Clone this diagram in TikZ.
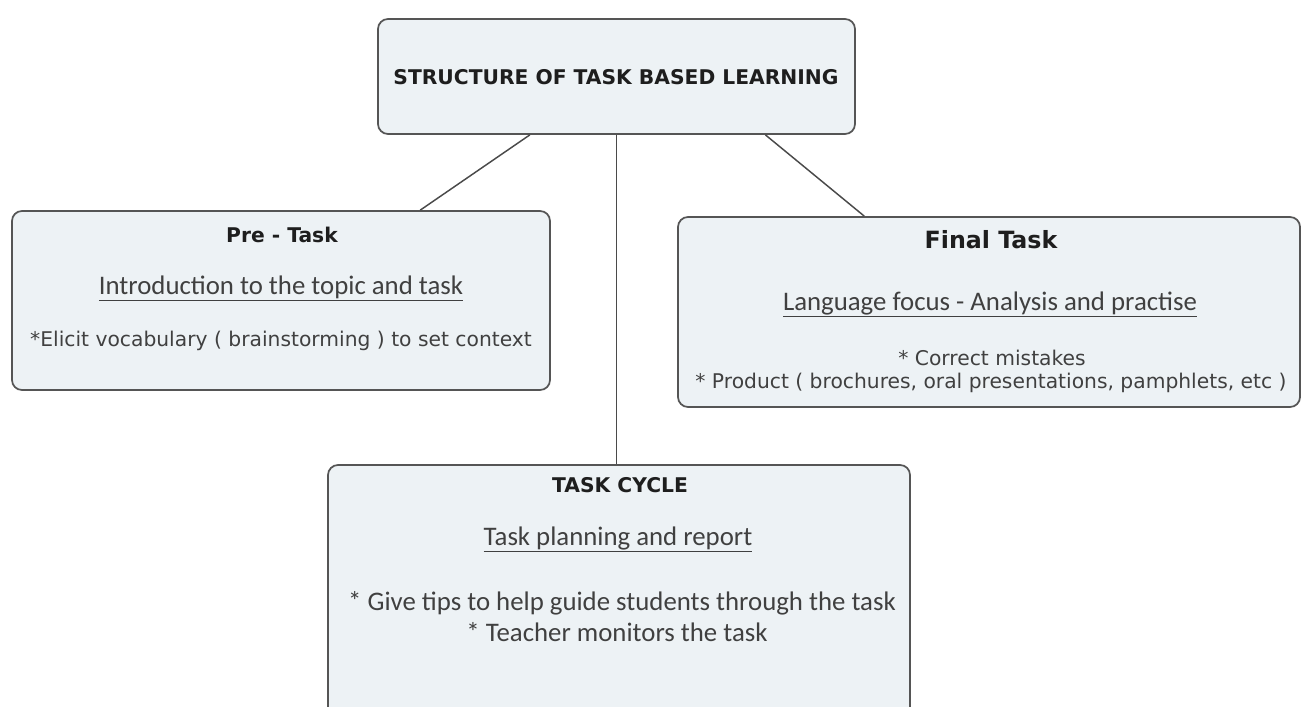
\documentclass[tikz,border=0pt]{standalone}
\usepackage{fontspec}
\setmainfont{DejaVu Sans}
\newfontfamily\calfont{Carlito}
\usetikzlibrary{fit,calc}
\definecolor{boxfill}{HTML}{EDF2F5}
\definecolor{boxline}{HTML}{555555}
\definecolor{linkcol}{HTML}{4A4A4A}
\definecolor{txt}{HTML}{1E1E1E}
\begin{document}
\begin{tikzpicture}[x=0.75pt,y=-0.75pt,
  box/.style={draw=boxline, fill=boxfill, line width=1.3pt, rounded corners=7.5pt, inner sep=0pt},
  link/.style={draw=linkcol, line width=1.1pt},
  head/.style={font=\fontsize{15.2}{18}\selectfont\bfseries, text=txt, inner sep=0pt, anchor=base},
  bighead/.style={font=\fontsize{17.8}{21}\selectfont\bfseries, text=txt, inner sep=0pt, anchor=base},
  sub/.style={font=\calfont\fontsize{20.1}{24}\selectfont, text=txt!85, inner sep=0pt, anchor=base},
  vtext/.style={font=\fontsize{15.2}{18}\selectfont, text=txt!85, inner sep=0pt, anchor=base},
  ctext/.style={font=\calfont\fontsize{20.1}{24}\selectfont, text=txt!85, inner sep=0pt, anchor=base}
]
\useasboundingbox (0,0) rectangle (1301,706);
\clip (0,0) rectangle (1301,706);
\fill[white] (0,0) rectangle (1301,706);

% boxes
\node[box, fit={(378,19) (855,134)}] (top) {};
\node[box, fit={(12,211) (550,390)}] (pre) {};
\node[box, fit={(678,217) (1300,407)}] (final) {};
\node[box, fit={(328,465) (910,760)}] (task) {};

% connectors
\draw[link] ($(top.south west)!0.319!(top.south east)$) -- ($(pre.north west)!0.758!(pre.north east)$);
\draw[link] ($(top.south west)!0.811!(top.south east)$) -- ($(final.north west)!0.30!(final.north east)$);
\draw[link] (top.south) -- (top.south |- task.north);

% top
\node[head] (toptitle) at (616,85) {STRUCTURE OF TASK BASED LEARNING};

% pre-task
\node[head] (pretitle) at (282,242) {Pre - Task};
\node[sub] (presub) at (281,294) {\underline{Introduction to the topic and task}};
\node[vtext] (prebul) at (281,346) {*Elicit vocabulary ( brainstorming ) to set context};

% final task
\node[bighead] (fintitle) at (991,248) {Final Task};
\node[sub] (finsub) at (990,310) {\underline{Language focus - Analysis and practise}};
\node[vtext] (finb1) at (992,365) {* Correct mistakes};
\node[vtext] (finb2) at (991,388) {* Product ( brochures, oral presentations, pamphlets, etc )};

% task cycle
\node[head] (tasktitle) at (620,492) {TASK CYCLE};
\node[sub] (tasksub) at (618,545) {\underline{Task planning and report}};
\node[ctext] (taskb1) at (622,610) {* Give tips to help guide students through the task};
\node[ctext] (taskb2) at (617,641.5) {* Teacher monitors the task};
\end{tikzpicture}
\end{document}
